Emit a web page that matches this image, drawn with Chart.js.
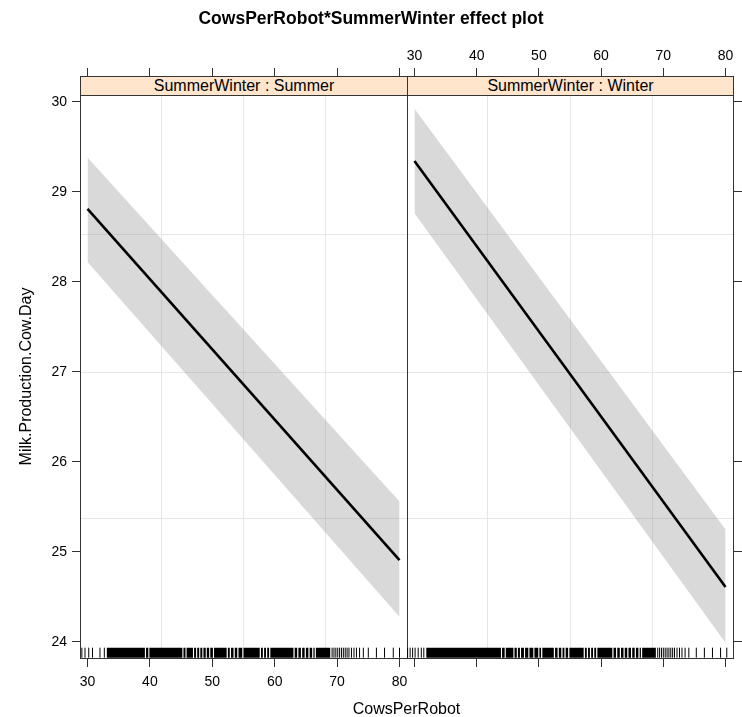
<!DOCTYPE html>
<html>
<head>
<meta charset="utf-8">
<title>CowsPerRobot*SummerWinter effect plot</title>
<script src="https://cdn.jsdelivr.net/npm/chart.js@4.4.1/dist/chart.umd.min.js"></script>
<style>
  body { margin: 0; background: #fff; font-family: "Liberation Sans", Arial, sans-serif; color: #000; }
  #wrap { position: relative; width: 742px; height: 717px; overflow: hidden; }
  canvas { position: absolute; left: 0; top: 0; }
  .title { position: absolute; left: 0; top: 8px; width: 742px; text-align: center;
           font-weight: bold; font-size: 17.5px; line-height: 20px; }
  .strip { position: absolute; top: 76px; height: 20px; box-sizing: border-box;
           background: #ffe5cc; border: 1px solid #333; text-align: center;
           font-size: 16px; line-height: 18px; white-space: nowrap; }
  .xtitle { position: absolute; left: 80px; width: 653px; top: 699px; text-align: center;
            font-size: 16px; line-height: 20px; }
</style>
</head>
<body>
<div id="wrap">
  <canvas id="summer" width="742" height="717"></canvas>
  <canvas id="winter" width="742" height="717"></canvas>
  <div class="title">CowsPerRobot*SummerWinter effect plot</div>
  <div class="strip" style="left:80px;width:328px;">SummerWinter : Summer</div>
  <div class="strip" style="left:407px;width:327px;">SummerWinter : Winter</div>
  <div class="xtitle">CowsPerRobot</div>
</div>
<script>
// axis ticks and reference grid
const X_TICKS = [30, 40, 50, 60, 70, 80];
const Y_TICKS = [24, 25, 26, 27, 28, 29, 30];
const X_GRID = [41.8, 55.0, 68.2];
const Y_GRID = [25.37, 26.99, 28.52];
const X_MIN = 28.8, X_MAX = 81.2;
const Y_MIN = 23.822, Y_MAX = 30.074;
const RUG_Y = 23.881;

// fitted effect and confidence band at the ends of the range
const cowsPerRobot = [30, 80];
const summerFit = [28.81, 24.91];
const summerUpper = [29.38, 25.56];
const summerLower = [28.22, 24.28];
const winterFit = [29.34, 24.61];
const winterUpper = [29.92, 25.25];
const winterLower = [28.76, 23.99];

// rug: solid runs of observations, and single observations
const summerRugRuns = [[33.1, 39.2], [39.38, 39.75], [39.92, 45.2], [45.38, 45.7], [45.88, 46.9], [47.08, 47.4],
  [47.58, 47.9], [48.08, 48.4], [48.58, 48.95], [49.12, 49.5], [49.68, 50.1], [50.28, 52.3], [52.5, 52.8],
  [53.0, 53.4], [53.6, 54.0], [54.2, 54.8], [55.0, 57.6], [57.8, 58.1], [58.3, 58.6], [58.8, 59.1],
  [59.3, 63.0], [63.2, 63.6], [63.8, 64.2], [64.4, 64.8], [65.0, 65.4], [65.6, 66.0], [66.2, 66.4], [66.6, 68.9]];
const summerRugTicks = [29.1, 29.6, 30.2, 30.8, 32.0, 32.7,
  69.2, 69.5, 69.8, 70.1, 70.4, 70.7, 71.0, 71.3, 71.6, 71.9, 72.3, 72.7, 73.1, 73.6, 74.2, 75.0, 76.3, 77.6, 79.0, 80.0];
const winterRugRuns = [[31.9, 43.9], [44.08, 44.5], [44.68, 45.9], [46.08, 46.45], [46.63, 46.95], [47.13, 47.6],
  [47.78, 48.3], [48.48, 49.1], [49.28, 49.9], [50.08, 50.35], [50.55, 52.4], [52.6, 53.0], [53.2, 53.6],
  [53.8, 54.1], [54.3, 54.7], [54.9, 57.2], [57.4, 57.7], [57.9, 58.2], [58.4, 58.7], [58.9, 59.2],
  [59.4, 61.8], [62.0, 62.4], [62.6, 63.0], [63.2, 63.6], [63.8, 64.2], [64.4, 64.8], [65.0, 65.4],
  [65.6, 66.0], [66.2, 66.4], [66.6, 68.8]];
const winterRugTicks = [28.9, 29.3, 29.7, 30.1, 30.6, 31.1, 31.5,
  69.1, 69.4, 69.7, 70.0, 70.3, 70.6, 70.9, 71.2, 71.5, 71.8, 72.2, 72.6, 73.0, 73.5, 74.1, 75.3, 76.6, 77.9, 79.2, 80.2];

const FONT = '"Liberation Sans", Arial, sans-serif';
const AXIS = '#333';
const GRID = '#e6e6e6';
const BAND = 'rgba(140, 140, 140, 0.33)';
const NONE = 'rgba(0, 0, 0, 0)';

function pts(xs, ys) {
  return xs.map((x, i) => ({ x, y: ys[i] }));
}

function rugRuns(runs) {
  const out = [];
  runs.forEach(([a, b]) => {
    out.push({ x: a, y: RUG_Y }, { x: b, y: RUG_Y }, { x: b, y: null });
  });
  return out;
}

// fix an axis box size so both panels line up exactly
function fixed(prop, size) {
  return (s) => { s[prop] = size; };
}

function tickValues(values) {
  return (s) => { s.ticks = values.map((v) => ({ value: v })); };
}

function makePanel(id, left, fit, upper, lower, runs, ticks) {
  const tickFont = { family: FONT, size: 14 };
  const scales = {
    x: {
      type: 'linear', position: 'bottom', min: X_MIN, max: X_MAX,
      afterBuildTicks: tickValues(X_TICKS), afterFit: fixed('height', 59),
      ticks: { display: left, font: tickFont, color: '#000', padding: 7, maxRotation: 0 },
      grid: { drawOnChartArea: false, tickLength: 9, color: AXIS },
      border: { color: AXIS },
    },
    x2: {
      type: 'linear', position: 'top', min: X_MIN, max: X_MAX,
      afterBuildTicks: tickValues(X_TICKS), afterFit: fixed('height', 95),
      ticks: { display: !left, font: tickFont, color: '#000', padding: 3, maxRotation: 0 },
      grid: { drawOnChartArea: false, tickLength: 27, color: AXIS },
      border: { color: AXIS },
    },
    xg: {
      type: 'linear', position: 'bottom', min: X_MIN, max: X_MAX,
      afterBuildTicks: tickValues(X_GRID), afterFit: fixed('height', 0),
      ticks: { display: false },
      grid: { color: GRID, drawTicks: false },
      border: { display: false },
    },
    y: {
      type: 'linear', position: 'left', min: Y_MIN, max: Y_MAX,
      afterBuildTicks: tickValues(Y_TICKS), afterFit: fixed('width', left ? 80 : 0),
      ticks: { display: left, font: tickFont, color: '#000', padding: 5 },
      grid: { drawOnChartArea: false, drawTicks: left, tickLength: 8, color: AXIS },
      border: { color: AXIS },
      title: {
        display: left, text: 'Milk.Production.Cow.Day', color: '#000',
        font: { family: FONT, size: 16 }, padding: { top: 17, bottom: 0 },
      },
    },
    yg: {
      type: 'linear', position: 'left', min: Y_MIN, max: Y_MAX,
      afterBuildTicks: tickValues(Y_GRID), afterFit: fixed('width', 0),
      ticks: { display: false },
      grid: { color: GRID, drawTicks: false },
      border: { display: false },
    },
  };
  if (!left) {
    scales.y2 = {
      type: 'linear', position: 'right', min: Y_MIN, max: Y_MAX,
      afterBuildTicks: tickValues(Y_TICKS), afterFit: fixed('width', 9),
      ticks: { display: false },
      grid: { drawOnChartArea: false, tickLength: 9, color: AXIS },
      border: { color: AXIS },
    };
  }

  new Chart(document.getElementById(id), {
    type: 'scatter',
    data: {
      datasets: [
        { data: pts(cowsPerRobot, fit), showLine: true, borderColor: '#000', borderWidth: 2.6, pointRadius: 0 },
        { data: rugRuns(runs), showLine: true, spanGaps: false, borderColor: '#000', borderWidth: 10,
          borderCapStyle: 'butt', pointRadius: 0 },
        { data: ticks.map((x) => ({ x, y: RUG_Y })), pointStyle: 'line', rotation: 90, pointRadius: 5,
          borderColor: '#000', borderWidth: 1 },
        { data: pts(cowsPerRobot, upper), showLine: true, borderColor: NONE, borderWidth: 0, pointRadius: 0,
          fill: '+1', backgroundColor: BAND },
        { data: pts(cowsPerRobot, lower), showLine: true, borderColor: NONE, borderWidth: 0, pointRadius: 0 },
      ],
    },
    options: {
      responsive: false,
      animation: false,
      events: [],
      layout: { padding: { left: left ? 0 : 407, right: left ? 335 : 0, top: 0, bottom: 0 } },
      plugins: { legend: { display: false }, tooltip: { enabled: false } },
      scales,
    },
  });
}

makePanel('summer', true, summerFit, summerUpper, summerLower, summerRugRuns, summerRugTicks);
makePanel('winter', false, winterFit, winterUpper, winterLower, winterRugRuns, winterRugTicks);
</script>
</body>
</html>
